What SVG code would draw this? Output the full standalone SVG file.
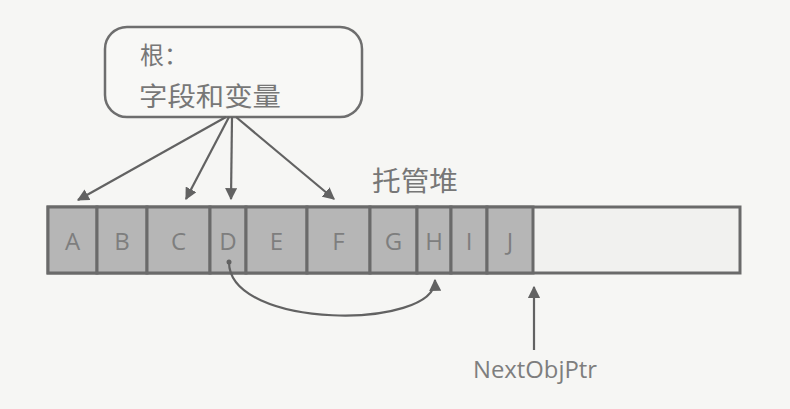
<svg xmlns="http://www.w3.org/2000/svg" width="790" height="409" viewBox="0 0 790 409">
<defs>
<marker id="ah" viewBox="0 0 10 10" refX="9" refY="5" markerWidth="5.5" markerHeight="5.5" orient="auto" markerUnits="strokeWidth">
<path d="M0,0 L10,5 L0,10 z" fill="#626262"/>
</marker>
<style>
.cell{fill:#b6b6b6;stroke:#6a6a6a;stroke-width:3}
.lbl{font-family:"Open Sans","Noto Sans",sans-serif;font-size:24px;fill:#7e7e7e;text-anchor:middle}
.cjk{font-family:"Noto Sans CJK SC",sans-serif;fill:#777}
.conn{fill:none;stroke:#626262;stroke-width:2.2;marker-end:url(#ah)}
</style>
</defs>
<rect width="790" height="409" fill="#f6f6f4"/>
<g id="root">
<rect x="105" y="27" width="257" height="90" rx="22" fill="#f8f8f6" stroke="#6e6e6e" stroke-width="2.5"/>
<text class="cjk" x="140" y="64" font-size="24">根：</text>
<text class="cjk" x="139" y="106" font-size="26" textLength="142" lengthAdjust="spacingAndGlyphs">字段和变量</text>
</g>
<g id="heap-label">
<text class="cjk" x="372" y="191" font-size="27" textLength="86" lengthAdjust="spacingAndGlyphs">托管堆</text>
</g>
<g id="heap">
<rect x="48" y="207" width="692" height="66" fill="#f1f1ef" stroke="#6a6a6a" stroke-width="3"/>
<g id="A"><rect class="cell" x="48" y="207" width="49" height="66"/><text class="lbl" x="72.5" y="250">A</text></g>
<g id="B"><rect class="cell" x="97" y="207" width="50" height="66"/><text class="lbl" x="122" y="250">B</text></g>
<g id="C"><rect class="cell" x="147" y="207" width="63" height="66"/><text class="lbl" x="178.5" y="250">C</text></g>
<g id="D"><rect class="cell" x="210" y="207" width="36" height="66"/><text class="lbl" x="228" y="250">D</text></g>
<g id="E"><rect class="cell" x="246" y="207" width="61" height="66"/><text class="lbl" x="276.5" y="250">E</text></g>
<g id="F"><rect class="cell" x="307" y="207" width="63" height="66"/><text class="lbl" x="338.5" y="250">F</text></g>
<g id="G"><rect class="cell" x="370" y="207" width="47" height="66"/><text class="lbl" x="393.5" y="250">G</text></g>
<g id="H"><rect class="cell" x="417" y="207" width="34" height="66"/><text class="lbl" x="434" y="250">H</text></g>
<g id="I"><rect class="cell" x="451" y="207" width="36" height="66"/><text class="lbl" x="469" y="250">I</text></g>
<g id="J"><rect class="cell" x="487" y="207" width="46" height="66"/><text class="lbl" x="510" y="250">J</text></g>
</g>
<g id="nextobjptr">
<text class="lbl" x="535" y="378" font-size="22" textLength="124" lengthAdjust="spacingAndGlyphs">NextObjPtr</text>
</g>
<g id="connectors">
<path class="conn" d="M226,117 L78,200"/>
<path class="conn" d="M229,117 L186,199"/>
<path class="conn" d="M232,117 L231,199"/>
<path class="conn" d="M236,117 L334,199"/>
<circle cx="229" cy="262" r="2.5" fill="#626262"/>
<path class="conn" d="M229,262 C229,330 436,330 435,280"/>
<path class="conn" d="M534,350 L534,287"/>
</g>
</svg>
